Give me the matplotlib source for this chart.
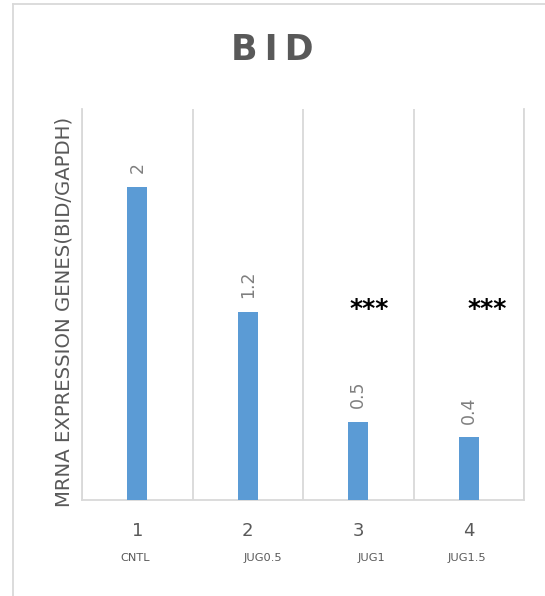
import matplotlib.pyplot as plt
import matplotlib.transforms as mtransforms
from matplotlib.lines import Line2D
import numpy as np

# data
ticks = ['1', '2', '3', '4']
groups = ['CNTL', 'JUG0.5', 'JUG1', 'JUG1.5']
values = [2, 1.2, 0.5, 0.4]
value_labels = ['2', '1.2', '0.5', '0.4']
signif = ['', '', '***', '***']

# label placement offsets (the group names are not centred on the ticks)
group_shift = [-0.02, 0.14, 0.115, -0.02]
star_shift = [0, 0, 0.1, 0.17]

gray = '#595959'
grid = '#d9d9d9'

fig = plt.figure(figsize=(5.45, 5.96), dpi=100)
ax = fig.add_axes([82/545, 1 - 500/596, (524 - 82)/545, (500 - 109)/596])

x = np.arange(len(values))
ax.bar(x, values, width=0.18, color='#5b9bd5', zorder=3)
ax.set_xlim(-0.5, len(values) - 0.5)
ax.set_ylim(0, 2.5)

# category separators
ax.set_xticks(np.arange(len(values) + 1) - 0.5, minor=True)
ax.grid(True, which='minor', axis='x', color=grid, lw=1.3)
ax.tick_params(which='minor', length=0)
ax.set_xticks(x)
ax.set_xticklabels(ticks, fontsize=13, color=gray)
ax.tick_params(axis='x', which='major', length=0, pad=16)
ax.set_yticks([])
for s in ['left', 'right', 'bottom']:
    ax.spines[s].set_color(grid)
    ax.spines[s].set_linewidth(1.3)
ax.spines['top'].set_visible(False)

for xi, v, lab in zip(x, values, value_labels):
    ax.annotate(lab, (xi, v), xytext=(0, 10), textcoords='offset points',
                rotation=90, ha='center', va='bottom', fontsize=12.5, color='#7f7f7f')

for xi, s, dx in zip(x, signif, star_shift):
    if s:
        ax.text(xi + dx, 1.22, s, ha='center', va='center', fontsize=18,
                fontweight='bold', color='black')

trans = mtransforms.blended_transform_factory(ax.transData, fig.transFigure)
for xi, g, dx in zip(x, groups, group_shift):
    ax.text(xi + dx, 1 - 558/596, g, transform=trans, ha='center', va='center',
            fontsize=8.2, color=gray)

ax.set_ylabel('MRNA EXPRESSION GENES(BID/GAPDH)', fontsize=14.2, color=gray)
ax.yaxis.set_label_coords(-0.02, 0.48)

fig.text(0.5, 1 - 50/596, 'B\u2009I\u2009D', ha='center', va='center', fontsize=25,
         fontweight='bold', color=gray)

# chart border (only top and left edges fall inside the image)
fig.add_artist(Line2D([13/545, 1], [1 - 4/596] * 2, transform=fig.transFigure, color=grid, lw=1.3))
fig.add_artist(Line2D([13/545] * 2, [0, 1 - 4/596], transform=fig.transFigure, color=grid, lw=1.3))

fig.savefig('out.png', dpi=100)
